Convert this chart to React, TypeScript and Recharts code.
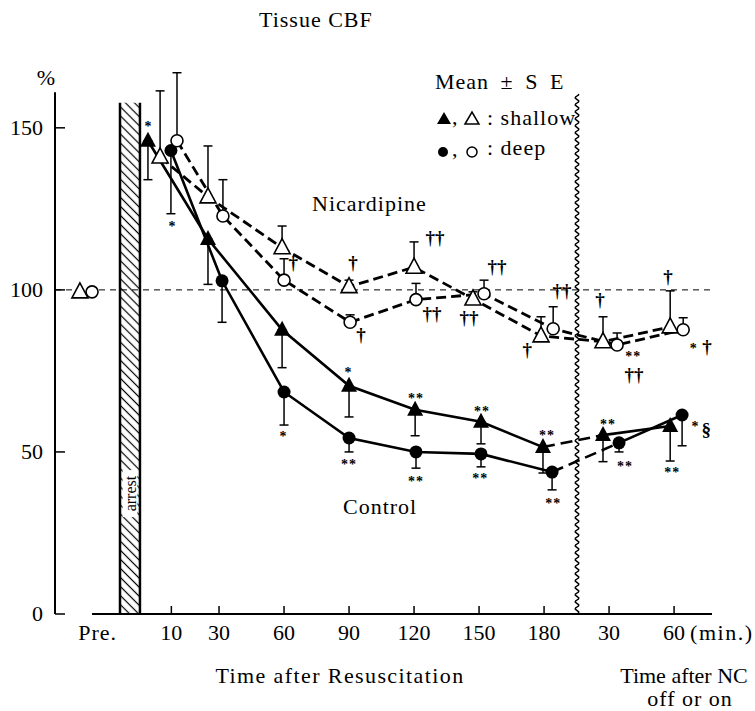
import React from "react";
import { ComposedChart, Line, XAxis, YAxis, ErrorBar, ReferenceLine, ReferenceArea } from "recharts";

const SERIF = '"Liberation Serif", "Times New Roman", serif';

// x ticks (position on the drawn time axis) and their printed labels
const TICK_POS = [-26, 8, 30, 60, 90, 120, 150, 180, 210, 240];
const TICK_LABELS = ["Pre.", "10", "30", "60", "90", "120", "150", "180", "30", "60"];
const Y_TICKS = [0, 50, 100, 150];

// Control, shallow (filled triangle) — SE drawn downward
const CS_X = [-2.8, 24.9, 59.1, 90, 120.5, 150.9, 179.5, 207.2, 238.2];
const CS_Y = [146, 115.7, 87.7, 70.4, 63, 59.3, 51.5, 55.2, 58];
const CS_SE = [12, 14, 11.7, 9.6, 8, 6.8, 8, 8.2, 10.8];

// Control, deep (filled circle)
const CD_X = [7.8, 31.4, 60, 90, 120.9, 150.9, 183.7, 214.6, 243.7];
const CD_Y = [143, 102.8, 68.5, 54.3, 50, 49.4, 43.8, 52.8, 61.4];
const CD_SE = [19.5, 12.8, 10.2, 4.3, 5, 4, 5.5, 2.8, 9.5];

// Nicardipine, shallow (open triangle) — SE drawn upward
const NS_X = [2.8, 24.9, 59.1, 90, 120, 147.2, 178.6, 207.2, 238.2];
const NS_Y = [141, 128.7, 113, 101, 107, 97.2, 85.8, 84, 88.6];
const NS_SE = [20.4, 15.7, 6.7, 2, 7.8, 2.2, 5.9, 7.7, 11.1];

// Nicardipine, deep (open circle)
const ND_X = [10.6, 31.8, 60, 90.5, 120.9, 152.3, 184.2, 213.7, 244.2];
const ND_Y = [146, 122.8, 103, 90, 97, 98.8, 88, 83, 87.7];
const ND_SE = [21, 11.2, 6.6, 2.3, 5, 4.2, 6.8, 3.7, 3.7];

// pre-arrest baseline
const PRE_TRI = [{ x: -34.2, y: 99.4 }];
const PRE_CIRC = [{ x: -28.6, y: 99.4 }];

// significance marks
const MARKS = [
  { x: -2.8, y: 151.4, t: "*" },
  { x: 8.3, y: 120.6, t: "*" },
  { x: 64.2, y: 108.3, t: "†" },
  { x: 91.8, y: 108.3, t: "†" },
  { x: 95.5, y: 86.1, t: "†" },
  { x: 129.7, y: 116.0, t: "††" },
  { x: 128.3, y: 92.5, t: "††" },
  { x: 145.4, y: 91.3, t: "††" },
  { x: 158.3, y: 107.0, t: "††" },
  { x: 172.2, y: 81.4, t: "†" },
  { x: 188.3, y: 99.6, t: "††" },
  { x: 205.8, y: 96.9, t: "†" },
  { x: 221.1, y: 80.6, t: "**" },
  { x: 221.5, y: 73.8, t: "††" },
  { x: 237.2, y: 103.9, t: "†" },
  { x: 248.8, y: 83.0, t: "*" },
  { x: 255.2, y: 82.4, t: "†" },
  { x: 59.5, y: 55.8, t: "*" },
  { x: 89.5, y: 75.6, t: "*" },
  { x: 90.0, y: 47.2, t: "**" },
  { x: 120.9, y: 67.6, t: "**" },
  { x: 120.9, y: 41.9, t: "**" },
  { x: 151.4, y: 63.5, t: "**" },
  { x: 150.5, y: 42.9, t: "**" },
  { x: 181.4, y: 56.1, t: "**" },
  { x: 184.2, y: 35.2, t: "**" },
  { x: 209.5, y: 59.5, t: "**" },
  { x: 217.4, y: 46.6, t: "**" },
  { x: 239.1, y: 44.7, t: "**" },
  { x: 249.7, y: 58.9, t: "*" },
  { x: 254.8, y: 56.8, t: "§" },
];

const toPoints = (xs: number[], ys: number[], se: number[], up: boolean) =>
  xs.map((x, i) => ({ x, y: ys[i], err: up ? [0, se[i]] : [se[i], 0] }));

const cs = toPoints(CS_X, CS_Y, CS_SE, false);
const cd = toPoints(CD_X, CD_Y, CD_SE, false);
const ns = toPoints(NS_X, NS_Y, NS_SE, true);
const nd = toPoints(ND_X, ND_Y, ND_SE, true);

const triPts = (cx: number, cy: number) =>
  `${cx},${cy - 9} ${cx - 8},${cy + 6} ${cx + 8},${cy + 6}`;

const FilledTri = (p: any) => <polygon points={triPts(p.cx, p.cy)} fill="#000" />;
const OpenTri = (p: any) => (
  <polygon points={triPts(p.cx, p.cy)} fill="#fff" stroke="#000" strokeWidth={1.6} />
);
const FilledCirc = (p: any) => <circle cx={p.cx} cy={p.cy} r={6.5} fill="#000" />;
const OpenCirc = (p: any) => (
  <circle cx={p.cx} cy={p.cy} r={6} fill="#fff" stroke="#000" strokeWidth={1.6} />
);

const MarkText = (p: any) => {
  const t: string = p.payload.t;
  const dagger = t.includes("†");
  const sect = t === "§";
  return (
    <text
      x={p.cx}
      y={p.cy}
      dy={dagger || sect ? 6 : 8}
      textAnchor="middle"
      fill="#000"
      fontFamily={SERIF}
      fontSize={dagger || sect ? 19 : 14}
      fontWeight="bold"
      letterSpacing={t === "**" ? 1 : 0}
    >
      {t}
    </text>
  );
};

function XTick(props: any) {
  const { x, y, payload } = props;
  const i = TICK_POS.indexOf(payload.value);
  return (
    <g>
      {i > 0 && <line x1={x} x2={x} y1={y} y2={y - 8} stroke="#000" strokeWidth={1.5} />}
      <text x={x} y={y + 26} textAnchor="middle" fontSize={22} fontFamily={SERIF} letterSpacing={i === 0 ? 1 : 0}>
        {TICK_LABELS[i]}
      </text>
      {i === TICK_POS.length - 1 && (
        <text x={x + 16} y={y + 26} fontSize={22} fontFamily={SERIF} letterSpacing={1.5}>
          (min.)
        </text>
      )}
    </g>
  );
}

function YTick(props: any) {
  const { x, y, payload } = props;
  return (
    <g>
      <line x1={x} x2={x + 10} y1={y} y2={y} stroke="#000" strokeWidth={1.5} />
      <text x={x - 12} y={y + 7} textAnchor="end" fontSize={22} fontFamily={SERIF}>
        {payload.value}
      </text>
    </g>
  );
}

const Wavy = (p: any) => {
  const top = Math.min(p.y1, p.y2);
  const bot = Math.max(p.y1, p.y2);
  let d = `M${p.x1},${bot}`;
  for (let y = bot; y >= top; y -= 1) {
    d += ` L${(p.x1 + 1.8 * Math.sin(((bot - y) / 7) * 2 * Math.PI)).toFixed(2)},${y}`;
  }
  return <path d={d} fill="none" stroke="#000" strokeWidth={1.5} />;
};

const lineProps = {
  type: "linear" as const,
  dataKey: "y",
  stroke: "#000",
  dot: false,
  activeDot: false,
  isAnimationActive: false,
  legendType: "none" as const,
};

export default function App() {
  return (
    <div style={{ position: "absolute", left: 0, top: 0, width: 755, height: 711, background: "#fff", opacity: 0.999 }}>
      <svg width={0} height={0} style={{ position: "absolute" }}>
        <defs>
          <pattern id="hatch" patternUnits="userSpaceOnUse" width="6" height="6.4" patternTransform="rotate(45)">
            <rect width="6" height="6.4" fill="#fff" />
            <line x1="0" y1="3.2" x2="6" y2="3.2" stroke="#000" strokeWidth="1.2" />
          </pattern>
        </defs>
      </svg>
      <ComposedChart width={755} height={711} margin={{ top: 63, right: 43, bottom: 67, left: 15 }}>
        <XAxis
          type="number"
          dataKey="x"
          domain={[-45.7, 257.5]}
          ticks={TICK_POS}
          interval={0}
          tick={<XTick />}
          tickLine={false}
          axisLine={false}
          tickSize={0}
          tickMargin={0}
          height={30}
        />
        <YAxis
          type="number"
          domain={[0, 170]}
          ticks={Y_TICKS}
          tick={<YTick />}
          tickLine={false}
          axisLine={false}
          tickSize={0}
          tickMargin={0}
          width={40}
        />
        <ReferenceLine y={100} stroke="#000" strokeWidth={1} strokeDasharray="6 5" ifOverflow="visible" />
        <ReferenceLine segment={[{ x: -45.7, y: 0 }, { x: -45.7, y: 161 }]} stroke="#000" strokeWidth={2} ifOverflow="visible" />
        <ReferenceLine segment={[{ x: -28.6, y: 0 }, { x: 257.5, y: 0 }]} stroke="#000" strokeWidth={2} ifOverflow="visible" />
        <ReferenceArea x1={-15.7} x2={-6.5} y1={0} y2={157.7} fill="url(#hatch)" fillOpacity={1} stroke="none" ifOverflow="visible" />
        <ReferenceLine segment={[{ x: -15.7, y: 0 }, { x: -15.7, y: 157.7 }]} stroke="#000" strokeWidth={2.5} ifOverflow="visible" />
        <ReferenceLine segment={[{ x: -6.5, y: 0 }, { x: -6.5, y: 157.7 }]} stroke="#000" strokeWidth={2.5} ifOverflow="visible" />
        <ReferenceArea
          x1={-14.5}
          x2={-7.7}
          y1={29.9}
          y2={44.4}
          fill="#fff"
          fillOpacity={1}
          stroke="none"
          ifOverflow="visible"
          label={{ value: "arrest", angle: -90, position: "center", fontSize: 16, fill: "#000", fontFamily: SERIF }}
        />
        <ReferenceLine segment={[{ x: 195.2, y: 0 }, { x: 195.2, y: 160.7 }]} shape={Wavy} ifOverflow="visible" />

        {/* Nicardipine: dashed */}
        <Line {...lineProps} data={ns} strokeWidth={2.8} strokeDasharray="10 5" />
        <Line {...lineProps} data={nd} strokeWidth={2.8} strokeDasharray="10 5" />

        {/* Control: solid, dashed across the NC switch */}
        <Line {...lineProps} data={cs.slice(0, 7)} strokeWidth={2.6} />
        <Line {...lineProps} data={cs.slice(6, 8)} strokeWidth={2.6} strokeDasharray="12 6" />
        <Line {...lineProps} data={cs.slice(7, 9)} strokeWidth={2.6} />
        <Line {...lineProps} data={cd.slice(0, 7)} strokeWidth={2.6} />
        <Line {...lineProps} data={cd.slice(6, 8)} strokeWidth={2.6} strokeDasharray="12 6" />
        <Line {...lineProps} data={cd.slice(7, 9)} strokeWidth={2.6} />

        {/* markers with SE bars */}
        <Line {...lineProps} data={cs} stroke="none" dot={(p: any) => <FilledTri key={`cs${p.index}`} cx={p.cx} cy={p.cy} />}>
          <ErrorBar dataKey="err" width={4.5} stroke="#000" strokeWidth={1.5} direction="y" />
        </Line>
        <Line {...lineProps} data={cd} stroke="none" dot={(p: any) => <FilledCirc key={`cd${p.index}`} cx={p.cx} cy={p.cy} />}>
          <ErrorBar dataKey="err" width={4.5} stroke="#000" strokeWidth={1.5} direction="y" />
        </Line>
        <Line {...lineProps} data={ns} stroke="none" dot={(p: any) => <OpenTri key={`ns${p.index}`} cx={p.cx} cy={p.cy} />}>
          <ErrorBar dataKey="err" width={4.5} stroke="#000" strokeWidth={1.5} direction="y" />
        </Line>
        <Line {...lineProps} data={nd} stroke="none" dot={(p: any) => <OpenCirc key={`nd${p.index}`} cx={p.cx} cy={p.cy} />}>
          <ErrorBar dataKey="err" width={4.5} stroke="#000" strokeWidth={1.5} direction="y" />
        </Line>
        <Line {...lineProps} data={PRE_TRI} stroke="none" dot={(p: any) => <OpenTri key={`pt${p.index}`} cx={p.cx} cy={p.cy} />} />
        <Line {...lineProps} data={PRE_CIRC} stroke="none" dot={(p: any) => <OpenCirc key={`pc${p.index}`} cx={p.cx} cy={p.cy} />} />

        {/* significance marks */}
        <Line {...lineProps} data={MARKS} stroke="none" dot={(p: any) => <MarkText key={`mk${p.index}`} {...p} />} />
      </ComposedChart>

      <svg
        width={755}
        height={711}
        style={{ position: "absolute", left: 0, top: 0, pointerEvents: "none" }}
        fontFamily={SERIF}
        fontSize={22}
      >
        <text x={259} y={27} letterSpacing={1}>Tissue CBF</text>
        <text x={46} y={85} textAnchor="middle">%</text>
        <text x={435} y={89} letterSpacing={1} wordSpacing={5}>Mean ± S E</text>
        <polygon points="437,124 444,112 451,124" fill="#000" />
        <text x={452} y={124}>,</text>
        <polygon points="465,124 472,112 479,124" fill="#fff" stroke="#000" strokeWidth={1.5} />
        <text x={487} y={125} letterSpacing={1}>: shallow</text>
        <circle cx={443} cy={152} r={5} fill="#000" />
        <text x={452} y={156}>,</text>
        <circle cx={472} cy={152} r={5} fill="#fff" stroke="#000" strokeWidth={1.5} />
        <text x={487} y={155} letterSpacing={1}>: deep</text>
        <text x={312} y={211} letterSpacing={1}>Nicardipine</text>
        <text x={343} y={514} letterSpacing={1}>Control</text>
        <text x={340} y={683} textAnchor="middle" letterSpacing={1.4}>Time after Resuscitation</text>
        <text x={684} y={683} textAnchor="middle">Time after NC</text>
        <text x={690} y={706} textAnchor="middle" letterSpacing={1}>off or on</text>
      </svg>
    </div>
  );
}
